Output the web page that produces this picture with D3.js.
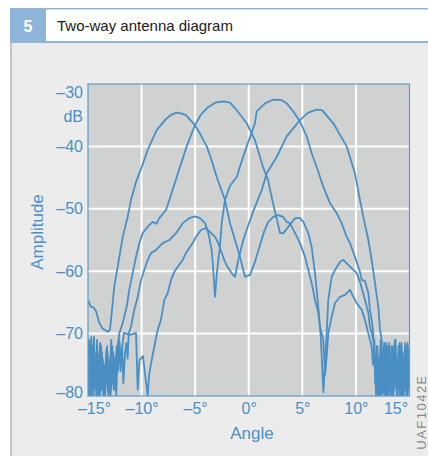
<!DOCTYPE html>
<html>
<head>
<meta charset="utf-8">
<script src="https://cdn.jsdelivr.net/npm/d3@7"></script>
<style>
  html, body { margin: 0; padding: 0; background: #fff; }
  svg { display: block; font-family: "Liberation Sans", Arial, sans-serif; }
</style>
</head>
<body>
<svg id="chart" width="428" height="456"></svg>
<script>
// two-way antenna diagram, four beams, angle in degrees vs amplitude in dB

const xTicks = [-15, -10, -5, 0, 5, 10, 15];
const yTicks = [-30, -40, -50, -60, -70, -80];

// beam 1, main lobe at about -6.7°
const beamA = [
  [-15,-64.6],[-14.72,-65.7],[-14.5,-65.8],[-14.25,-66.4],[-13.94,-68.3],[-13.63,-69.2],[-13.16,-69.7],[-12.95,-69.4],
  [-12.76,-66.2],[-12.55,-62.5],[-12.23,-59.3],[-11.76,-54.5],[-11.3,-51.3],[-10.99,-48.6],[-10.5,-45.6],[-9.99,-43.3],
  [-9.37,-40.3],[-8.59,-37.4],[-7.72,-35.6],[-7.2,-34.9],[-6.72,-34.6],[-6.3,-34.7],[-5.86,-35],[-5.02,-36.6],[-4.5,-38.1],
  [-3.92,-40],[-3.45,-42.3],[-2.99,-44.9],[-2.22,-48.6],[-1.75,-52.3],[-1.28,-55],[-0.82,-57.7],[-0.51,-59.8],[-0.35,-60.9],
  [0.12,-60.6],[0.58,-58.5],[1.05,-55.8],[1.42,-53.7],[1.82,-52.1],[2.29,-51.3],[2.76,-51],[3.22,-51.3],[3.54,-52.1],
  [3.85,-52.3],[4.32,-53.9],[4.78,-55.5],[5.25,-57.7],[5.56,-59.8],[5.87,-61.9],[6.18,-64.6],[6.49,-66.7],[6.65,-68.9],
  [6.96,-71],[7.12,-76.6],[7.27,-73.7],[7.42,-70],[7.74,-67.3],[8.05,-65.1],[8.52,-64.1],[8.99,-63.8],[9.45,-63],
  [9.76,-64.1],[10.07,-65.1],[10.54,-66.2],[10.85,-67.8],[11.16,-70],[11.47,-72.1],
  [11.6,-75],[11.72,-71],[11.85,-78],[11.97,-73],[12.1,-80],[12.22,-74],[12.35,-72],[12.48,-79],[12.6,-75],[12.72,-80],
  [12.85,-73],[12.98,-77],[13.1,-71.5],[13.22,-80],[13.35,-76],[13.48,-73],[13.6,-79],[13.72,-74],[13.85,-80],[13.97,-72],
  [14.1,-77],[14.22,-80],[14.35,-73],[14.48,-78],[14.6,-71.5],[14.72,-80],[14.85,-75],[15,-72]
];

// beam 2, main lobe at about -2.3°
const beamB = [
  [-15,-71],[-14.88,-78],[-14.78,-72],[-14.66,-80],[-14.55,-74],[-14.44,-70.5],[-14.33,-77],[-14.2,-73],[-14.1,-80],
  [-13.98,-75],[-13.86,-71.5],[-13.75,-79],[-13.62,-74],[-13.5,-80],[-13.4,-76],[-13.28,-72.5],[-13.15,-79],[-13.03,-75],
  [-12.9,-80],[-12.78,-77],[-12.65,-73],[-12.5,-76],[-12.35,-73.5],
  [-12.23,-72.1],[-12.08,-70],[-11.76,-68.3],[-11.39,-65.7],[-11.15,-63],[-10.83,-60.3],[-10.52,-57.7],[-10.21,-55.5],
  [-9.9,-53.9],[-9.43,-52.9],[-8.96,-52.1],[-8.6,-52.4],[-8.35,-51.5],[-7.72,-50.2],[-7.41,-48.6],[-6.72,-44.9],
  [-5.79,-40],[-5.02,-36.6],[-4.5,-35],[-3.92,-33.9],[-3.15,-33],[-2.37,-32.8],[-1.75,-33],[-1.12,-34.2],[-0.19,-36.3],
  [0.58,-39],[1.33,-43.3],[1.8,-45.4],[2.26,-49.1],[2.64,-51.8],[2.92,-53.9],[3.22,-53.9],[3.69,-52.9],[4.32,-51.5],
  [4.78,-51.5],[5.09,-52.1],[5.56,-53.9],[5.87,-56.1],[6.18,-60.3],[6.49,-65.7],[6.74,-71],[6.96,-79.4],[7.27,-70],
  [7.42,-64.6],[7.74,-60.9],[8.05,-59.8],[8.52,-58.5],[8.82,-58.2],[9.29,-59],[9.76,-59.8],[10.07,-60.3],[10.38,-61.7],
  [10.54,-62.7],[10.85,-64.6],[11.16,-66.7],[11.31,-68.9],[11.62,-71],
  [11.75,-74],[11.88,-80],[12,-72],[12.13,-77],[12.25,-80],[12.38,-73],[12.5,-78],[12.63,-71.5],[12.75,-79],[12.88,-75],
  [13,-80],[13.12,-72.5],[13.25,-78],[13.38,-74],[13.5,-80],[13.62,-71],[13.75,-77],[13.88,-80],[14,-74],[14.12,-78],
  [14.25,-71.5],[14.38,-80],[14.5,-75],[14.62,-79],[14.75,-72],[14.88,-78],[15,-74]
];

// beam 3, main lobe at about 2.6°
const beamC = [
  [-15,-76],[-14.9,-71],[-14.8,-80],[-14.68,-75],[-14.58,-72],[-14.46,-79],[-14.35,-76],[-14.22,-80],[-14.12,-73],
  [-14,-77],[-13.88,-80],[-13.77,-72],[-13.65,-78],[-13.55,-75],[-13.42,-80],[-13.3,-77],[-13.18,-73],[-13.06,-80],
  [-12.95,-76],[-12.83,-71],[-12.7,-78],[-12.58,-74],[-12.45,-79],[-12.33,-72],[-12.2,-76],[-12.08,-71],[-11.95,-75],
  [-11.82,-72],[-11.7,-78],[-11.55,-73],[-11.42,-71.5],[-11.3,-74],
  [-11.2,-70],[-10.99,-68.9],[-10.68,-66.2],[-10.36,-64.1],[-10.05,-61.4],[-9.75,-59.8],[-9.43,-58.2],[-9.12,-57.1],
  [-8.65,-56.6],[-8.03,-55.5],[-7.41,-55],[-6.79,-53.9],[-6.16,-52.3],[-5.55,-51.5],[-5.02,-51.2],[-4.55,-51.5],
  [-4.08,-52.3],[-3.77,-53.9],[-3.46,-56.6],[-3.31,-59.8],[-3.15,-64.1],[-2.99,-60.6],[-2.82,-57.9],[-2.68,-55.8],
  [-2.52,-52.3],[-2.22,-48.6],[-1.75,-46.3],[-1.12,-44.9],[-0.72,-42.7],[-0.19,-40],[0.58,-36.3],[0.74,-34.4],
  [1.52,-33.1],[2.14,-32.6],[2.61,-32.5],[3.07,-32.6],[3.54,-33.1],[4.16,-34.4],[4.78,-36],[5.41,-38.4],[5.87,-41.1],
  [6.34,-43.3],[6.96,-46.5],[7.58,-49.1],[8.21,-50.7],[8.67,-52.3],[9.14,-54.5],[9.45,-55.5],[9.91,-57.7],[10.38,-60.1],
  [10.54,-61.4],[10.85,-61.6],[11.16,-63.5],[11.31,-66.2],[11.47,-67.8],[11.62,-69.9],
  [11.7,-73],[11.82,-78],[11.95,-72],[12.08,-80],[12.2,-76],[12.32,-71],[12.45,-80],[12.58,-74],[12.7,-77],[12.82,-80],
  [12.95,-72],[13.08,-79],[13.2,-75],[13.32,-80],[13.45,-72],[13.58,-78],[13.7,-74],[13.82,-80],[13.95,-76],[14.08,-71.5],
  [14.2,-79],[14.32,-74],[14.45,-80],[14.58,-72],[14.7,-77],[14.82,-80],[14.95,-73]
];

// beam 4, main lobe at about 6.5°
const beamD = [
  [-15,-73],[-14.92,-80],[-14.8,-77],[-14.7,-70.5],[-14.6,-76],[-14.48,-80],[-14.38,-74],[-14.26,-78],[-14.15,-71],
  [-14.03,-80],[-13.92,-76],[-13.8,-79],[-13.7,-73],[-13.58,-80],[-13.46,-75],[-13.35,-78],[-13.22,-72],[-13.1,-80],
  [-12.98,-74],[-12.86,-77],[-12.74,-72],[-12.6,-79],[-12.48,-75],[-12.36,-80],[-12.24,-73],[-12.1,-71],[-11.96,-76],
  [-11.8,-72],
  [-11.64,-69.9],[-11.08,-70.2],[-10.52,-69.9],[-10.36,-79],[-10.19,-74.2],[-9.87,-73.6],[-9.43,-80],[-9.3,-76.6],
  [-9.12,-74.8],[-8.81,-72.1],[-8.5,-69.4],[-8.19,-67.8],[-7.88,-64.6],[-7.56,-63.5],[-7.25,-61.4],[-6.95,-60.1],
  [-6.63,-59.3],[-6.16,-58.2],[-5.86,-57.1],[-5.23,-55.5],[-4.92,-54.5],[-4.46,-53.4],[-3.99,-53.1],[-3.62,-53.7],
  [-3.15,-54.5],[-2.84,-55.5],[-2.52,-57.1],[-2.22,-58.5],[-1.91,-59.5],[-1.59,-60.3],[-1.28,-60.9],[-0.98,-58.2],
  [-0.51,-55],[-0.04,-52.6],[0.58,-49.7],[1.21,-47],[1.68,-44.3],[2.61,-41.7],[3.54,-38.4],[4.78,-35.8],[5.53,-34.6],
  [6.34,-34.1],[6.84,-34.2],[7.89,-36.3],[9.14,-40],[9.91,-44.3],[10.38,-48.6],[10.69,-51.3],[11.16,-55],[11.47,-58.2],
  [11.78,-61.9],[12.09,-65.7],[12.25,-69.4],[12.4,-71],[12.56,-79.5],
  [12.7,-75],[12.82,-71.5],[12.95,-80],[13.08,-74],[13.2,-78],[13.32,-72],[13.45,-80],[13.58,-76],[13.7,-71],[13.82,-79],
  [13.95,-74],[14.08,-80],[14.2,-72],[14.32,-77],[14.45,-80],[14.58,-73],[14.7,-78],[14.82,-71.5],[14.95,-79]
];

const beams = [beamA, beamB, beamC, beamD];

const blue = '#4a90c6';
const lineBlue = '#4a8fc4';

const svg = d3.select('#chart');

// header strip
svg.append('rect').attr('x', 10).attr('y', 8).attr('width', 418).attr('height', 35).attr('fill', '#8fb4d9');
svg.append('rect').attr('x', 46).attr('y', 9.5).attr('width', 382).attr('height', 31.5).attr('fill', '#fff');
svg.append('text').attr('x', 28).attr('y', 31.5).attr('text-anchor', 'middle')
  .style('font-size', '16px').style('font-weight', 'bold').style('fill', '#fff').text('5');
svg.append('text').attr('x', 57).attr('y', 31).style('font-size', '15px').style('fill', '#1a1a1a')
  .text('Two-way antenna diagram');

// grey panel with its left rule
svg.append('rect').attr('x', 10).attr('y', 43).attr('width', 418).attr('height', 413).attr('fill', '#ececec');
svg.append('rect').attr('x', 10).attr('y', 43).attr('width', 2).attr('height', 413).attr('fill', '#c4c4c4');

const plot = {left: 88, right: 409.5, top: 84, bottom: 396};

const x = d3.scaleLinear().domain([-15, 15]).range([plot.left, plot.right]);
const y = d3.scaleLinear().domain([-80, -30]).range([plot.bottom, plot.top]);

svg.append('rect')
  .attr('x', plot.left).attr('y', plot.top)
  .attr('width', plot.right - plot.left).attr('height', plot.bottom - plot.top)
  .attr('fill', '#d0d1d1');

const grid = svg.append('g');
grid.selectAll('.vg').data(xTicks.slice(1, -1)).join('line')
  .attr('x1', d => x(d)).attr('x2', d => x(d)).attr('y1', plot.top).attr('y2', plot.bottom)
  .attr('stroke', '#fff').attr('stroke-width', 2);
grid.selectAll('.hg').data(yTicks.slice(1, -1)).join('line')
  .attr('y1', d => y(d)).attr('y2', d => y(d)).attr('x1', plot.left).attr('x2', plot.right)
  .attr('stroke', '#fff').attr('stroke-width', 2);

svg.append('clipPath').attr('id', 'clip').append('rect')
  .attr('x', plot.left).attr('y', plot.top)
  .attr('width', plot.right - plot.left).attr('height', plot.bottom - plot.top);

const line = d3.line().x(d => x(d[0])).y(d => y(d[1]));

svg.append('g').attr('clip-path', 'url(#clip)')
  .selectAll('path').data(beams).join('path')
  .attr('d', line).attr('fill', 'none')
  .attr('stroke', lineBlue).attr('stroke-width', 1.8)
  .attr('stroke-linejoin', 'round');

svg.append('rect')
  .attr('x', plot.left).attr('y', plot.top)
  .attr('width', plot.right - plot.left).attr('height', plot.bottom - plot.top)
  .attr('fill', 'none').attr('stroke', '#5b9bcc').attr('stroke-width', 1.2);

// axes
const dash = v => (v < 0 ? '\u2013' : '') + Math.abs(v);

const yAxis = svg.append('g').attr('transform', `translate(${plot.left},0)`)
  .call(d3.axisLeft(y).tickValues(yTicks).tickSize(0).tickPadding(5).tickFormat(dash));
const xAxis = svg.append('g').attr('transform', `translate(0,${plot.bottom})`)
  .call(d3.axisBottom(x).tickValues(xTicks).tickSize(0).tickPadding(7).tickFormat(d => dash(d) + '°'));

[yAxis, xAxis].forEach(a => {
  a.select('.domain').remove();
  a.selectAll('text').style('font-size', '16px').style('fill', blue).style('font-family', null);
});
yAxis.selectAll('.tick').filter(d => d === -30).select('text').attr('y', 8.5);
yAxis.selectAll('.tick').filter(d => d === -80).select('text').attr('y', -3.5);
xAxis.selectAll('.tick').filter(d => d === -15).select('text').attr('x', 6);
xAxis.selectAll('.tick').filter(d => d === 15).select('text').attr('x', -14);

svg.append('text').attr('x', 83).attr('y', 122).attr('text-anchor', 'end')
  .style('font-size', '16px').style('fill', blue).text('dB');
svg.append('text').attr('transform', 'translate(43,232) rotate(-90)').attr('text-anchor', 'middle')
  .style('font-size', '17px').style('fill', blue).text('Amplitude');
svg.append('text').attr('x', 252).attr('y', 439).attr('text-anchor', 'middle')
  .style('font-size', '17px').style('fill', blue).text('Angle');

svg.append('text').attr('transform', 'translate(425.5,412) rotate(-90)').attr('text-anchor', 'middle')
  .style('font-size', '13px').style('letter-spacing', '1.5px').style('fill', '#8a8a8a').text('UAF1042E');
</script>
</body>
</html>
